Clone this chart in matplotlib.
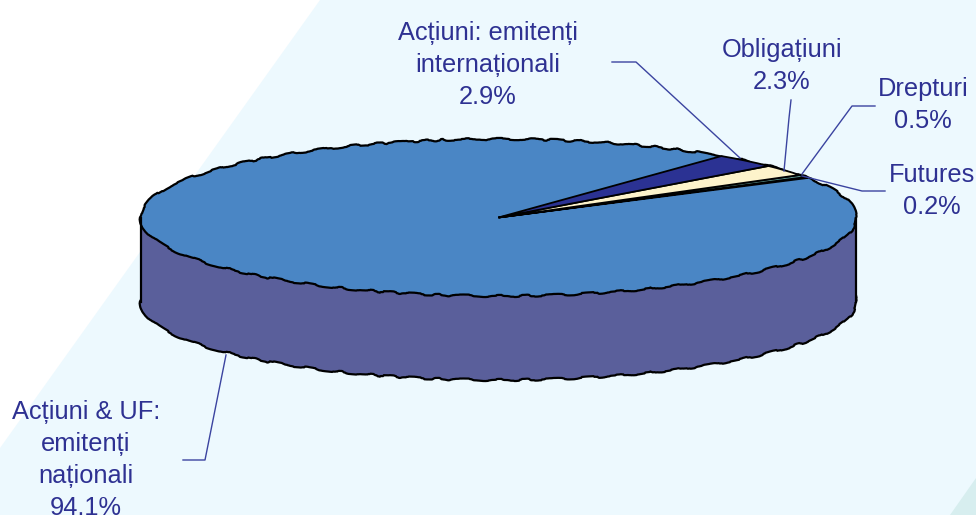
import matplotlib
matplotlib.use('Agg')
import matplotlib.pyplot as plt
from matplotlib.patches import Polygon, Rectangle

plt.rcParams['font.family'] = ['Liberation Sans', 'DejaVu Sans']

names = ['Acțiuni & UF:\nemitenți\nnaționali\n94.1%', 'Futures\n0.2%', 'Drepturi\n0.5%',
         'Obligațiuni\n2.3%', 'Acțiuni: emitenți\ninternaționali\n2.9%']
shares = [94.1, 0.2, 0.5, 2.3, 2.9]
colors = ['#4A86C5', '#7B2A8C', '#5F9C98', '#FDF3CB', '#2B3293']

label_pos = [(86, 460), (932, 191), (923, 105), (782, 66), (488, 65)]
leaders = [[(226, 355), (205, 460), (183, 460)],
           [(802, 176), (862, 191), (885, 191)],
           [(802, 174), (852, 106), (875, 106)],
           [(784, 171), (789, 118), (791, 100)],
           [(740, 158), (636, 62), (612, 62)]]

wall = '#5A5F9B'
text_col = '#2E3192'
line_col = '#3B44A0'
depth = 84 / 78.5  # wall height in radii of the squashed pie

fig = plt.figure(figsize=(9.76, 5.15), dpi=100)

# background and labels live in a pixel-sized axes
bg = fig.add_axes([0, 0, 1, 1])
bg.set_xlim(0, 976)
bg.set_ylim(515, 0)
bg.axis('off')
bg.add_patch(Polygon([(320, 0), (976, 0), (976, 515), (0, 515), (0, 448)], color='#EDF9FE', lw=0))
bg.add_patch(Polygon([(976, 478), (976, 515), (950, 515)], color='#D7EEEF', lw=0))

ax = fig.add_axes([140.5 / 976, (515 - 296) / 515, 716 / 976, 157 / 515])
ax.patch.set_alpha(0)


def sketchy(patches):
    for p in patches:
        p.set_sketch_params(scale=1.1, length=70, randomness=12)
        p.set_clip_on(False)


# lower disc and side wall first, top of the pie over them
low, _ = ax.pie([1], colors=[wall], center=(0, -depth), radius=1,
                wedgeprops=dict(edgecolor='black', linewidth=1.6))
sketchy(low)
ax.add_patch(Rectangle((-1, -depth), 2, depth, facecolor=wall, edgecolor='none', clip_on=False))
ax.plot([-1, -1], [0, -depth], color='black', lw=1.6, clip_on=False)
ax.plot([1, 1], [0, -depth], color='black', lw=1.6, clip_on=False)

# bumpy top disc, then the thin slices kept clean on top of it
disc, _ = ax.pie([1], colors=colors[:1], radius=1,
                 wedgeprops=dict(edgecolor='black', linewidth=1.6))
sketchy(disc)
top, _ = ax.pie(shares, colors=colors, startangle=51.5, radius=1,
                wedgeprops=dict(edgecolor='black', linewidth=1.3))
top[0].set_visible(False)
ax.set_aspect('auto')
ax.set_xlim(-1, 1)
ax.set_ylim(-1, 1)
ax.axis('off')

over = fig.add_axes([0, 0, 1, 1])
over.set_xlim(0, 976)
over.set_ylim(515, 0)
over.axis('off')
for name, (x, y), pts in zip(names, label_pos, leaders):
    over.text(x, y, name, ha='center', va='center', color=text_col, fontsize=18.3,
              linespacing=1.43, clip_on=False)
    over.plot([p[0] for p in pts], [p[1] for p in pts], color=line_col, lw=1)

fig.savefig('out.png', dpi=100)
